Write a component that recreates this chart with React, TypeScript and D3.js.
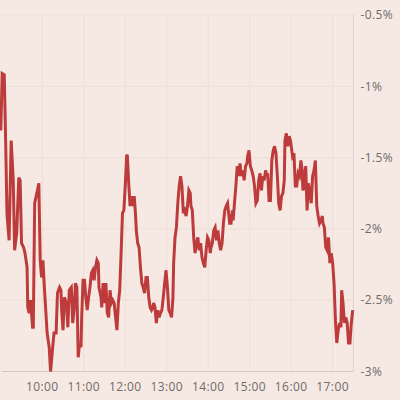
import React from 'react'
import * as d3 from 'd3'

// intraday % change, time of print (London)
const times = [
  '09:00', '09:02', '09:05', '09:07', '09:09', '09:12', '09:15', '09:18', '09:20', '09:23',
  '09:26', '09:28', '09:30', '09:33', '09:35', '09:38', '09:39', '09:41', '09:43', '09:46',
  '09:47', '09:49', '09:53', '09:55', '09:57', '09:59', '10:01', '10:03', '10:05', '10:07',
  '10:10', '10:12', '10:15', '10:17', '10:20', '10:22', '10:25',
  '10:27', '10:28', '10:30', '10:32', '10:35', '10:37', '10:39', '10:42', '10:44', '10:46',
  '10:48', '10:50', '10:52', '10:54', '10:56', '10:57', '10:59', '11:01', '11:03', '11:05',
  '11:07', '11:09', '11:11', '11:13', '11:15', '11:17', '11:19', '11:21', '11:22', '11:25',
  '11:26', '11:28', '11:30', '11:32', '11:34', '11:36', '11:38', '11:40', '11:42', '11:44',
  '11:46', '11:48',
  '11:50', '11:52', '11:54', '11:56', '11:58', '12:00', '12:02', '12:03', '12:05', '12:07',
  '12:09', '12:11', '12:13', '12:15', '12:16', '12:18', '12:20', '12:22', '12:24', '12:26',
  '12:28', '12:30', '12:32', '12:34', '12:36', '12:38', '12:40', '12:41', '12:43', '12:45',
  '12:47', '12:49', '12:51', '12:53', '12:55', '12:57', '12:59', '13:01', '13:03', '13:05',
  '13:07', '13:09', '13:10', '13:12',
  '13:14', '13:16', '13:18', '13:20', '13:22', '13:24', '13:26', '13:28', '13:30', '13:32',
  '13:34', '13:35', '13:37', '13:39', '13:41', '13:43', '13:45', '13:47', '13:49', '13:51',
  '13:53', '13:55', '13:57', '13:59', '14:01', '14:03', '14:04', '14:06', '14:08', '14:10',
  '14:12', '14:14', '14:16', '14:18', '14:20', '14:22', '14:24', '14:26', '14:28', '14:30',
  '14:31', '14:33', '14:35',
  '14:36', '14:38', '14:40', '14:42', '14:44', '14:46', '14:48', '14:50', '14:52', '14:54',
  '14:56', '14:57', '14:59', '15:01', '15:03', '15:05', '15:07', '15:09', '15:11', '15:13',
  '15:15', '15:17', '15:19', '15:21', '15:23', '15:25', '15:26', '15:28', '15:30', '15:32',
  '15:34', '15:36', '15:38', '15:40', '15:42', '15:44', '15:46', '15:48', '15:50', '15:51',
  '15:53', '15:55', '15:57',
  '15:59', '16:00', '16:02', '16:04', '16:06', '16:08', '16:10', '16:12', '16:14', '16:16',
  '16:17', '16:19', '16:21', '16:23', '16:25', '16:27', '16:29', '16:31', '16:33', '16:35',
  '16:37', '16:39', '16:41', '16:43', '16:45', '16:46', '16:48', '16:50', '16:52', '16:54',
  '16:56', '16:58', '17:00', '17:02', '17:04', '17:06', '17:08', '17:10', '17:12', '17:13',
  '17:15', '17:17', '17:19', '17:21', '17:23', '17:25', '17:27', '17:29',
]

const changes = [
  -1.31, -0.91, -0.92, -1.38, -1.90, -2.08, -1.38, -1.66, -2.15, -2.03,
  -1.64, -1.66, -2.10, -2.13, -2.17, -2.27, -2.55, -2.59, -2.50, -2.69,
  -2.69, -1.82, -1.73, -1.68, -2.22, -2.34, -2.22, -2.41, -2.57, -2.73,
  -2.83, -3.00, -2.83, -2.73, -2.73, -2.45, -2.41,
  -2.43, -2.57, -2.71, -2.48, -2.52, -2.69, -2.43, -2.41, -2.66, -2.57,
  -2.38, -2.41, -2.90, -2.80, -2.83, -2.62, -2.36, -2.36, -2.48, -2.57,
  -2.48, -2.41, -2.31, -2.29, -2.36, -2.27, -2.22, -2.24, -2.41, -2.48,
  -2.55, -2.38, -2.52, -2.38, -2.59, -2.62, -2.43, -2.52, -2.50, -2.52,
  -2.62, -2.71,
  -2.52, -2.43, -2.17, -1.89, -1.87, -1.70, -1.49, -1.48, -1.68, -1.84,
  -1.77, -1.84, -1.77, -1.91, -2.01, -2.10, -2.13, -2.27, -2.38, -2.41,
  -2.45, -2.34, -2.34, -2.48, -2.55, -2.57, -2.55, -2.52, -2.55, -2.66,
  -2.57, -2.62, -2.59, -2.57, -2.48, -2.38, -2.29, -2.41, -2.57, -2.59,
  -2.62, -2.48, -2.24, -2.06,
  -1.99, -1.82, -1.70, -1.63, -1.70, -1.89, -1.87, -1.91, -1.84, -1.73,
  -1.75, -1.84, -1.87, -2.06, -2.17, -2.10, -2.06, -2.15, -2.10, -2.20,
  -2.24, -2.27, -2.15, -2.06, -2.08, -2.17, -2.13, -2.10, -2.01, -1.99,
  -2.08, -2.01, -2.10, -2.15, -2.10, -1.96, -1.87, -1.84, -1.82, -1.91,
  -1.96, -1.96, -1.87,
  -1.94, -1.82, -1.70, -1.56, -1.63, -1.54, -1.63, -1.59, -1.66, -1.56,
  -1.54, -1.49, -1.45, -1.56, -1.59, -1.63, -1.70, -1.82, -1.80, -1.66,
  -1.61, -1.73, -1.63, -1.66, -1.59, -1.63, -1.61, -1.80, -1.80, -1.52,
  -1.45, -1.42, -1.47, -1.63, -1.82, -1.87, -1.77, -1.75, -1.66, -1.38,
  -1.33, -1.42, -1.35,
  -1.38, -1.42, -1.49, -1.47, -1.70, -1.70, -1.61, -1.63, -1.52, -1.59,
  -1.73, -1.70, -1.56, -1.87, -1.68, -1.75, -1.82, -1.63, -1.59, -1.52,
  -1.84, -1.91, -1.96, -1.94, -1.91, -1.96, -1.99, -2.13, -2.15, -2.06,
  -2.24, -2.17, -2.24, -2.38, -2.64, -2.80, -2.71, -2.66, -2.69, -2.43,
  -2.52, -2.66, -2.62, -2.66, -2.80, -2.80, -2.66, -2.57,
]

const yTicks = [-0.5, -1, -1.5, -2, -2.5, -3]
const xTicks = ['10:00', '11:00', '12:00', '13:00', '14:00', '15:00', '16:00', '17:00']
const sessionStart = '09:00'
const sessionEnd = '17:30'

const parseTime = (s: string) => d3.timeParse('%Y-%m-%d %H:%M')('2016-06-24 ' + s) as Date

const fmtPct = (v: number) => (v === -0.5 ? '-0.5%' : `${v}%`)

export default function App() {
  const width = 400
  const height = 400
  const left = 0.8
  const right = 353.4
  const top = 15
  const bottom = 371.5

  const x = d3.scaleTime()
    .domain([parseTime(sessionStart), parseTime(sessionEnd)])
    .range([left, right])
  const y = d3.scaleLinear().domain([-3, -0.5]).range([bottom, top])

  const data = times.map((t, i) => ({ t: parseTime(t), v: changes[i] }))
  const line = d3.line<{ t: Date; v: number }>()
    .x(d => x(d.t))
    .y(d => y(d.v))

  const textStyle: React.CSSProperties = {
    fontFamily: '"Open Sans", sans-serif',
    fontSize: '12px',
    fill: '#6f6b68',
    letterSpacing: '0.4px',
  }

  return (
    <div style={{ position: 'fixed', left: 0, top: 0, width, height, background: '#f6e9e3' }}>
      <svg width={width} height={height} style={{ display: 'block' }}>
        <rect width={width} height={height} fill="#f6e9e3" />

        {/* gridlines */}
        {yTicks.filter(v => v !== -3).map(v => (
          <line key={'gy' + v} x1={left + 1} x2={right} y1={y(v)} y2={y(v)}
            stroke="#eeded5" strokeWidth={1} />
        ))}
        {xTicks.map(t => (
          <line key={'gx' + t} x1={x(parseTime(t))} x2={x(parseTime(t))} y1={top} y2={bottom}
            stroke="#eeded5" strokeWidth={1} />
        ))}

        {/* axis lines */}
        <line x1={right} x2={right} y1={top} y2={bottom} stroke="#e3d3cb" strokeWidth={1} />
        <line x1={left + 1} x2={right} y1={bottom} y2={bottom} stroke="#d6c7bf" strokeWidth={1} />

        {/* series */}
        <path d={line(data) || ''} fill="none" stroke="#bd3b3b" strokeWidth={3}
          strokeLinejoin="miter" strokeMiterlimit={4} />

        {/* y labels */}
        {yTicks.map(v => (
          <text key={'ly' + v} x={right + 7} y={y(v)} dy="0.35em" style={textStyle}>
            {fmtPct(v)}
          </text>
        ))}

        {/* x labels */}
        {xTicks.map(t => (
          <text key={'lx' + t} x={x(parseTime(t))} y={bottom + 19} textAnchor="middle" style={textStyle}>
            {t}
          </text>
        ))}
      </svg>
    </div>
  )
}
